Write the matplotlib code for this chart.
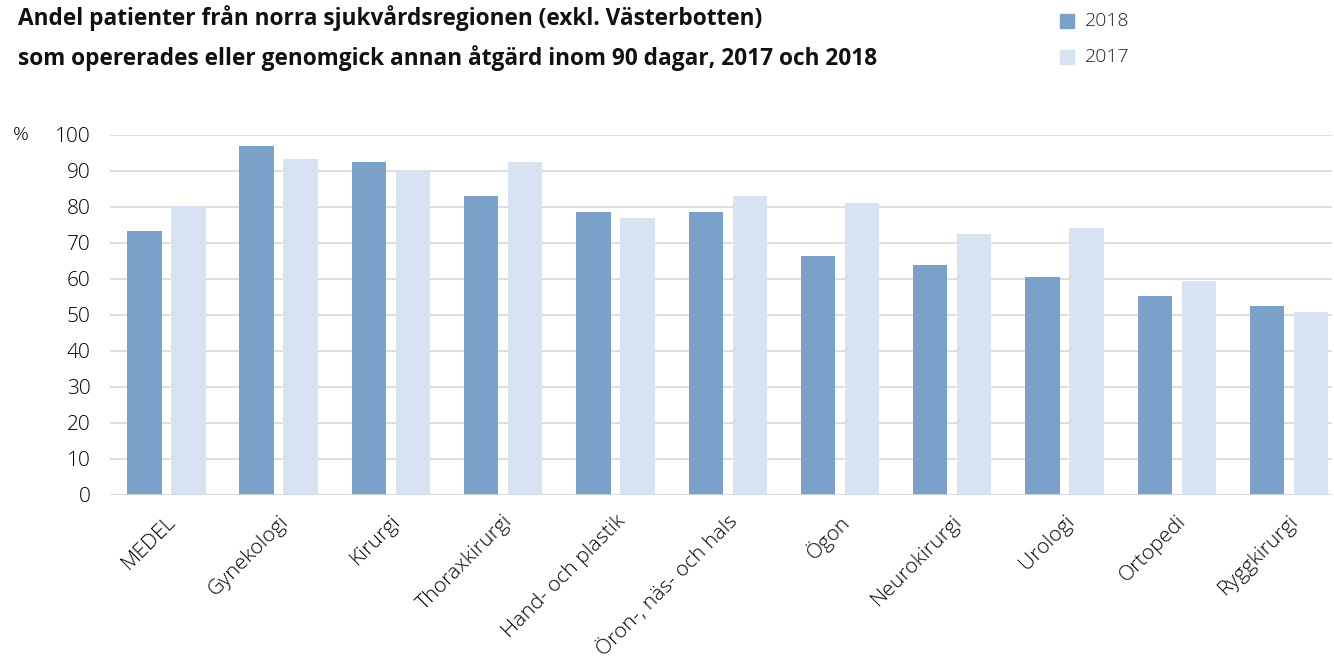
"""Andel patienter opererade inom 90 dagar, norra sjukvårdsregionen 2017-2018."""

import matplotlib.pyplot as plt
import numpy as np
from matplotlib.patches import Rectangle

plt.rcParams["font.family"] = ["Open Sans", "DejaVu Sans"]

# categories and values
categories = [
    "MEDEL", "Gynekologi", "Kirurgi", "Thoraxkirurgi", "Hand- och plastik",
    "Öron-, näs- och hals", "Ögon", "Neurokirurgi", "Urologi", "Ortopedi",
    "Ryggkirurgi",
]
values_2018 = [73.3, 96.9, 92.5, 83.0, 78.6, 78.6, 66.5, 63.8, 60.5, 55.2, 52.6]
values_2017 = [80.3, 93.3, 90.0, 92.5, 76.9, 83.1, 81.1, 72.5, 74.2, 59.5, 50.8]
yticks = [0, 10, 20, 30, 40, 50, 60, 70, 80, 90, 100]

title = ("Andel patienter från norra sjukvårdsregionen (exkl. Västerbotten)\n"
         "som opererades eller genomgick annan åtgärd inom 90 dagar, 2017 och 2018")

col_2018 = "#7ba1cb"
col_2017 = "#d7e3f2"
grid_col = "#d9d9d9"
text_col = "#000000"

W, H = 1334, 659
fig = plt.figure(figsize=(W / 100, H / 100), dpi=100)
ax = fig.add_axes([110 / W, (H - 495) / H, (1332 - 110) / W, 360 / H])

x = np.arange(len(categories))
bar_w = 0.307
off = 0.196
ax.bar(x - off, values_2018, width=bar_w, color=col_2018, zorder=2)
ax.bar(x + off, values_2017, width=bar_w, color=col_2017, zorder=2)

ax.set_xlim(-0.503, 10.383)
ax.set_ylim(0, 100)
ax.set_yticks(yticks)
ax.set_yticklabels([str(v) for v in yticks], fontsize=15, color=text_col,
                   fontweight="light")
ax.yaxis.grid(True, color=grid_col, linewidth=1.2, zorder=1)
ax.axhline(0, color=grid_col, linewidth=1.5, zorder=3, alpha=0.8)
ax.tick_params(axis="y", length=0, pad=14)
ax.tick_params(axis="x", length=0)
for s in ax.spines.values():
    s.set_visible(False)

ax.set_xticks(x + 0.06)
ax.set_xticklabels(categories, rotation=45, ha="right", va="center",
                   rotation_mode="anchor", fontsize=15.2, color=text_col,
                   fontweight="light")
ax.tick_params(axis="x", pad=17)

fig.text(13 / W, 1 - 135 / H, "%", fontsize=14, color=text_col, va="center",
         fontweight="light")

fig.text(18 / W, 1 - 38 / H, title, fontsize=16.3, fontweight="bold",
         color="#111111", va="center", linespacing=1.72)

# legend
for i, (lab, col) in enumerate([("2018", col_2018), ("2017", col_2017)]):
    yc = 21 + 36 * i
    fig.patches.append(Rectangle((1060 / W, 1 - (yc + 7) / H), 14 / W, 14 / H,
                                 transform=fig.transFigure, color=col))
    fig.text(1085 / W, 1 - yc / H, lab, fontsize=14, color="#222222",
             va="center", fontweight="light")

fig.savefig("out.png", dpi=100)
